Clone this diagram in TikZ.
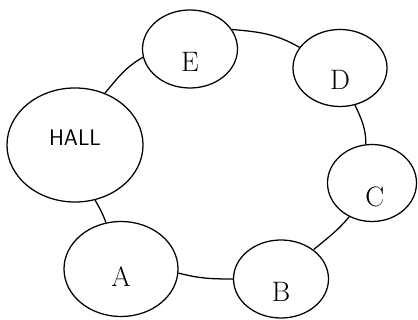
\documentclass[tikz,border=0pt]{standalone}
\usetikzlibrary{shapes.geometric}
\tikzset{
  room/.style={draw, ellipse, line width=0.9pt, inner sep=0pt},
  tag/.style={font=\fontsize{20}{22}\selectfont},
  hallfont/.style={font=\sffamily\fontsize{16}{18}\selectfont},
  link/.style={line width=0.9pt}
}

\begin{document}
\begin{tikzpicture}[x=0.025cm,y=0.025cm]
\useasboundingbox (0,0) rectangle (418,320);

% Draw rooms.
\node[room, minimum width=3.4cm, minimum height=2.85cm,
  label={[hallfont, yshift=0.175cm]center:HALL}] (hall) at (75,175) {};
\node[room, minimum width=2.375cm, minimum height=1.95cm,
  label={[tag, yshift=-0.325cm]center:E}] (e) at (190,271) {};
\node[room, minimum width=2.35cm, minimum height=1.925cm,
  label={[tag, yshift=-0.3cm]center:D}] (d) at (340,252) {};
\node[room, minimum width=2.225cm, minimum height=1.925cm,
  label={[tag, yshift=-0.35cm, xshift=0.07cm]center:C}] (c) at (372,137) {};
\node[room, minimum width=2.375cm, minimum height=1.95cm,
  label={[tag, yshift=-0.325cm]center:B}] (b) at (281,41) {};
\node[room, minimum width=2.85cm, minimum height=2.375cm,
  label={[tag, yshift=-0.2cm]center:A}] (a) at (121,51) {};

% Draw the ring of corridors.
\draw[link] (hall.60) to[out=50,in=210] (e.190);
\draw[link] (e.25) to[out=-5,in=150] (d.153);
\draw[link] (d.-68) to[out=-65,in=90] (c.99);
\draw[link] (c.236) to[out=230,in=40] (b.42);
\draw[link] (a.-4) to[out=-15,in=180] (b.180);
\draw[link] (hall.-70) to[out=-60,in=110] (a.108);
\end{tikzpicture}
\end{document}
